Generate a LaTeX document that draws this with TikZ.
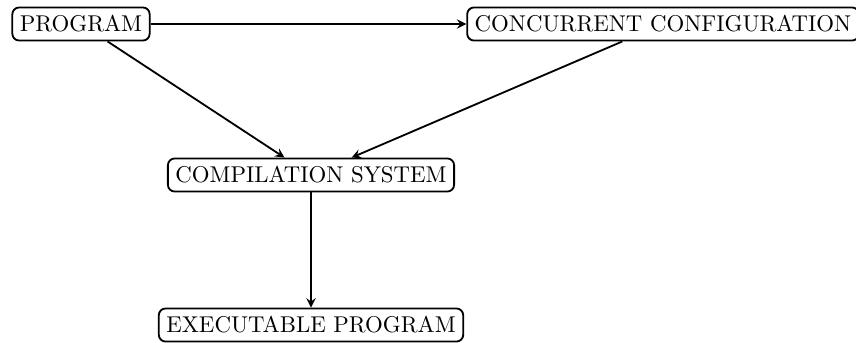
\documentclass[tikz,border=0pt]{standalone}
\usetikzlibrary{arrows}

\begin{document}
\begin{tikzpicture}[
    x=0.438pt, y=-0.438pt,   % one unit = one pixel of the target
    >={stealth},
    thick,
    stage/.style={draw, rounded corners=3pt, inner xsep=3.3pt, minimum height=14.5pt}
]

    \useasboundingbox (0,0) rectangle (856,342);

    % --- nodes ---
    \node[stage] (prog) at (81, 24) {PROGRAM};
    \node[stage] (conf) at (663, 24) {CONCURRENT CONFIGURATION};
    \node[stage] (comp) at (311, 175) {COMPILATION SYSTEM};
    \node[stage] (exec) at (311, 325) {EXECUTABLE PROGRAM};

    % --- edges ---
    \draw[->] (prog) -- (conf);
    \draw[->] (prog) -- (comp);
    \draw[->] (conf) -- (comp);
    \draw[->] (comp) -- (exec);

\end{tikzpicture}
\end{document}
